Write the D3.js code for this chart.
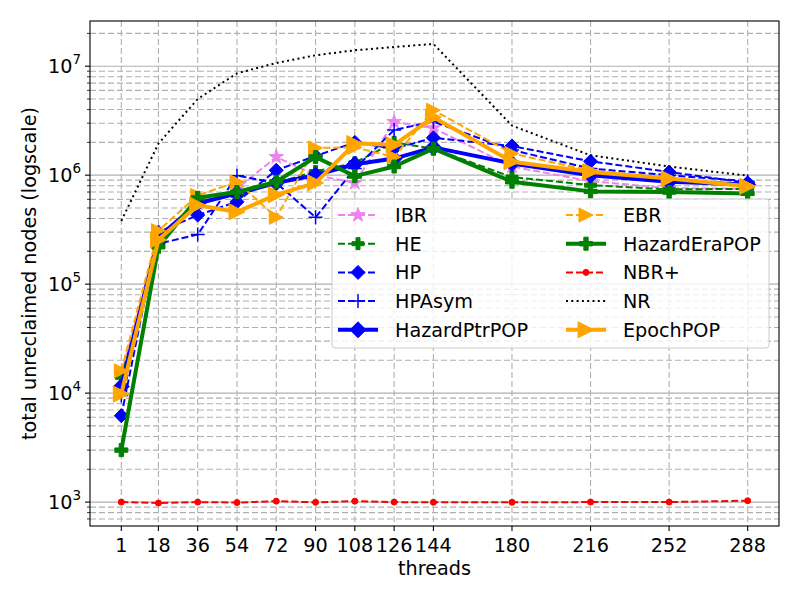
<!DOCTYPE html>
<head>
  <meta charset="utf-8">
  <style>
    body { margin: 0; background: #fff; }
    text { font-family: 'DejaVu Sans', sans-serif; fill: #000; }
  </style>
  <script src="https://cdn.jsdelivr.net/npm/d3@7"></script>
</head>
<body>
  <script>

    const threads = [1, 18, 36, 54, 72, 90, 108, 126, 144, 180, 216, 252, 288];

    const ibr          = [15000, 260000, 550000, 750000, 1470000, 1000000, 850000, 3080000, 2700000, 1200000, 880000, 760000, 750000];
    const he           = [14000, 225000, 580000, 650000, 850000, 1080000, 1300000, 2000000, 1750000, 960000, 810000, 740000, 750000];
    const hp           = [6200, 300000, 430000, 570000, 1110000, 1500000, 2000000, 1750000, 2200000, 1850000, 1340000, 1070000, 850000];
    const hpAsym       = [9500, 235000, 285000, 990000, 850000, 410000, 1150000, 2600000, 3100000, 1700000, 1150000, 1000000, 880000];
    const hazardPtrPOP = [11500, 270000, 550000, 680000, 850000, 1000000, 1260000, 1420000, 1800000, 1280000, 1000000, 870000, 820000];
    const ebr          = [16000, 310000, 650000, 870000, 410000, 1780000, 1800000, 1470000, 3950000, 1580000, 1100000, 930000, 780000];
    const hazardEraPOP = [3000, 220000, 620000, 700000, 870000, 1470000, 980000, 1200000, 1750000, 870000, 710000, 700000, 680000];
    const nbrPlus      = [1000, 980, 1000, 990, 1020, 995, 1020, 1000, 995, 995, 1000, 1000, 1030];
    const nr           = [380000, 1950000, 5000000, 8600000, 10700000, 12600000, 14000000, 15000000, 16000000, 2850000, 1520000, 1200000, 990000];
    const epochPOP     = [9800, 255000, 530000, 460000, 660000, 850000, 1950000, 1900000, 3400000, 1330000, 1070000, 930000, 790000];

    const seriesNames = ['IBR', 'HE', 'HP', 'HPAsym', 'HazardPtrPOP', 'EBR', 'HazardEraPOP', 'NBR+', 'NR', 'EpochPOP'];
    const seriesData = [ibr, he, hp, hpAsym, hazardPtrPOP, ebr, hazardEraPOP, nbrPlus, nr, epochPOP];

    // style per series: color, dash, width, marker, marker size
    const styles = [
      { c: 'violet', dash: '7,3', w: 2,   m: 'star',  s: 14 },
      { c: 'green',  dash: '7,3', w: 2,   m: 'plus',  s: 12 },
      { c: 'blue',   dash: '7,3', w: 2,   m: 'diamond', s: 14 },
      { c: 'blue',   dash: '7,3', w: 2,   m: 'cross', s: 14 },
      { c: 'blue',   dash: null,  w: 4,   m: 'diamond', s: 16 },
      { c: 'orange', dash: '7,3', w: 2,   m: 'tri',   s: 14 },
      { c: 'green',  dash: null,  w: 4,   m: 'plus',  s: 13 },
      { c: 'red',    dash: '7,3', w: 2,   m: 'dot',   s: 6 },
      { c: 'black',  dash: '2,3.3', w: 2, m: null,    s: 0 },
      { c: 'orange', dash: null,  w: 4,   m: 'tri',   s: 16 }
    ];

    const W = 800, H = 600;
    const mLeft = 90, mRight = 779, mTop = 21, mBottom = 526;
    const fs = 19.2;

    const svg = d3.select('body').append('svg')
      .attr('width', W)
      .attr('height', H);

    // matplotlib style 5% margins
    const xMin = d3.min(threads), xMax = d3.max(threads);
    const xPad = (xMax - xMin) * 0.05;
    const x = d3.scaleLinear().domain([xMin - xPad, xMax + xPad]).range([mLeft, mRight]);

    const allVals = seriesData.flat();
    const lMin = Math.log10(d3.min(allVals)), lMax = Math.log10(d3.max(allVals));
    const lPad = (lMax - lMin) * 0.05;
    const y = d3.scaleLog().domain([Math.pow(10, lMin - lPad), Math.pow(10, lMax + lPad)]).range([mBottom, mTop]);

    const majorY = [1e3, 1e4, 1e5, 1e6, 1e7];
    const minorY = [];
    for (let e = 2; e <= 7; e++) {
      for (let k = 2; k <= 9; k++) {
        const v = k * Math.pow(10, e);
        if (v >= y.domain()[0] && v <= y.domain()[1]) minorY.push(v);
      }
    }

    const grid = svg.append('g');
    grid.selectAll('.minor').data(minorY).enter().append('line')
      .attr('x1', mLeft).attr('x2', mRight)
      .attr('y1', d => y(d)).attr('y2', d => y(d))
      .attr('stroke', '#b0b0b0').attr('stroke-width', 1.1)
      .attr('stroke-dasharray', '6,3');
    grid.selectAll('.major').data(majorY).enter().append('line')
      .attr('x1', mLeft).attr('x2', mRight)
      .attr('y1', d => y(d)).attr('y2', d => y(d))
      .attr('stroke', '#b0b0b0').attr('stroke-width', 1.1);
    grid.selectAll('.vx').data(threads).enter().append('line')
      .attr('x1', d => x(d)).attr('x2', d => x(d))
      .attr('y1', mTop).attr('y2', mBottom)
      .attr('stroke', '#b0b0b0').attr('stroke-width', 1.1)
      .attr('stroke-dasharray', '6,3');

    // markers
    const markerPath = (type, s) => {
      const r = s / 2;
      if (type === 'diamond') return `M0,${-r}L${r},0L0,${r}L${-r},0Z`;
      if (type === 'tri') return `M${r},0L${-r},${-r}L${-r},${r}Z`;
      if (type === 'star') return d3.symbol(d3.symbolStar, s * s * 0.33)();
      if (type === 'cross') return `M${-r},0L${r},0M0,${-r}L0,${r}`;
      if (type === 'plus') {
        const a = r, b = r / 3;
        return `M${-b},${-a}L${b},${-a}L${b},${-b}L${a},${-b}L${a},${b}L${b},${b}L${b},${a}L${-b},${a}L${-b},${b}L${-a},${b}L${-a},${-b}L${-b},${-b}Z`;
      }
      if (type === 'dot') return d3.symbol(d3.symbolCircle, Math.PI * r * r)();
      return '';
    };

    const drawMarker = (g, st, cx, cy) => {
      if (!st.m) return;
      const p = g.append('path')
        .attr('d', markerPath(st.m, st.s))
        .attr('transform', `translate(${cx},${cy})`);
      if (st.m === 'cross') {
        p.attr('fill', 'none').attr('stroke', st.c).attr('stroke-width', 1.5);
      } else {
        p.attr('fill', st.c).attr('stroke', st.c).attr('stroke-width', 1);
      }
    };

    const line = d3.line().x(d => x(d[0])).y(d => y(d[1]));
    const plot = svg.append('g');

    seriesData.forEach((vals, i) => {
      const st = styles[i];
      const pts = threads.map((t, j) => [t, vals[j]]);
      const g = plot.append('g');
      g.append('path')
        .datum(pts)
        .attr('d', line)
        .attr('fill', 'none')
        .attr('stroke', st.c)
        .attr('stroke-width', st.w)
        .attr('stroke-linejoin', 'round')
        .attr('stroke-dasharray', st.dash);
      pts.forEach(p => drawMarker(g, st, x(p[0]), y(p[1])));
    });

    // frame
    svg.append('rect')
      .attr('x', mLeft).attr('y', mTop)
      .attr('width', mRight - mLeft).attr('height', mBottom - mTop)
      .attr('fill', 'none').attr('stroke', '#000').attr('stroke-width', 1.1);

    // x axis
    const xAxis = svg.append('g');
    xAxis.selectAll('line').data(threads).enter().append('line')
      .attr('x1', d => x(d)).attr('x2', d => x(d))
      .attr('y1', mBottom).attr('y2', mBottom + 5)
      .attr('stroke', '#000').attr('stroke-width', 1.1);
    xAxis.selectAll('text').data(threads).enter().append('text')
      .attr('x', d => x(d)).attr('y', mBottom + 26)
      .attr('text-anchor', 'middle')
      .attr('font-size', fs)
      .text(d => d);

    // y axis
    const yAxis = svg.append('g');
    yAxis.selectAll('.mt').data(majorY).enter().append('line')
      .attr('x1', mLeft - 5).attr('x2', mLeft)
      .attr('y1', d => y(d)).attr('y2', d => y(d))
      .attr('stroke', '#000').attr('stroke-width', 1.1);
    yAxis.selectAll('.nt').data(minorY).enter().append('line')
      .attr('x1', mLeft - 3).attr('x2', mLeft)
      .attr('y1', d => y(d)).attr('y2', d => y(d))
      .attr('stroke', '#000').attr('stroke-width', 0.8);
    const yl = yAxis.selectAll('text').data(majorY).enter().append('text')
      .attr('x', mLeft - 9).attr('y', d => y(d) + 7)
      .attr('text-anchor', 'end')
      .attr('font-size', fs);
    yl.append('tspan').text('10');
    yl.append('tspan').attr('dy', -9).attr('font-size', 13.5).text(d => Math.round(Math.log10(d)));

    svg.append('text')
      .attr('x', (mLeft + mRight) / 2).attr('y', 575)
      .attr('text-anchor', 'middle').attr('font-size', fs)
      .text('threads');
    svg.append('text')
      .attr('transform', `translate(36,${(mTop + mBottom) / 2}) rotate(-90)`)
      .attr('text-anchor', 'middle').attr('font-size', fs)
      .text('total unreclaimed nodes (logscale)');

    // legend, two columns
    const leg = svg.append('g');
    leg.append('rect')
      .attr('x', 332).attr('y', 199).attr('width', 437).attr('height', 149)
      .attr('rx', 3)
      .attr('fill', '#fff').attr('fill-opacity', 0.8)
      .attr('stroke', '#ccc').attr('stroke-width', 1);
    seriesNames.forEach((name, i) => {
      const st = styles[i];
      const col = Math.floor(i / 5), row = i % 5;
      const lx = col === 0 ? 338 : 566;
      const ly = 215 + row * 28.7;
      const g = leg.append('g');
      g.append('line')
        .attr('x1', lx).attr('x2', lx + 40)
        .attr('y1', ly).attr('y2', ly)
        .attr('stroke', st.c).attr('stroke-width', st.w)
        .attr('stroke-dasharray', st.dash);
      drawMarker(g, st, lx + 20, ly);
      g.append('text')
        .attr('x', lx + 57).attr('y', ly + 7)
        .attr('font-size', fs)
        .text(name);
    });

  </script>
</body>
